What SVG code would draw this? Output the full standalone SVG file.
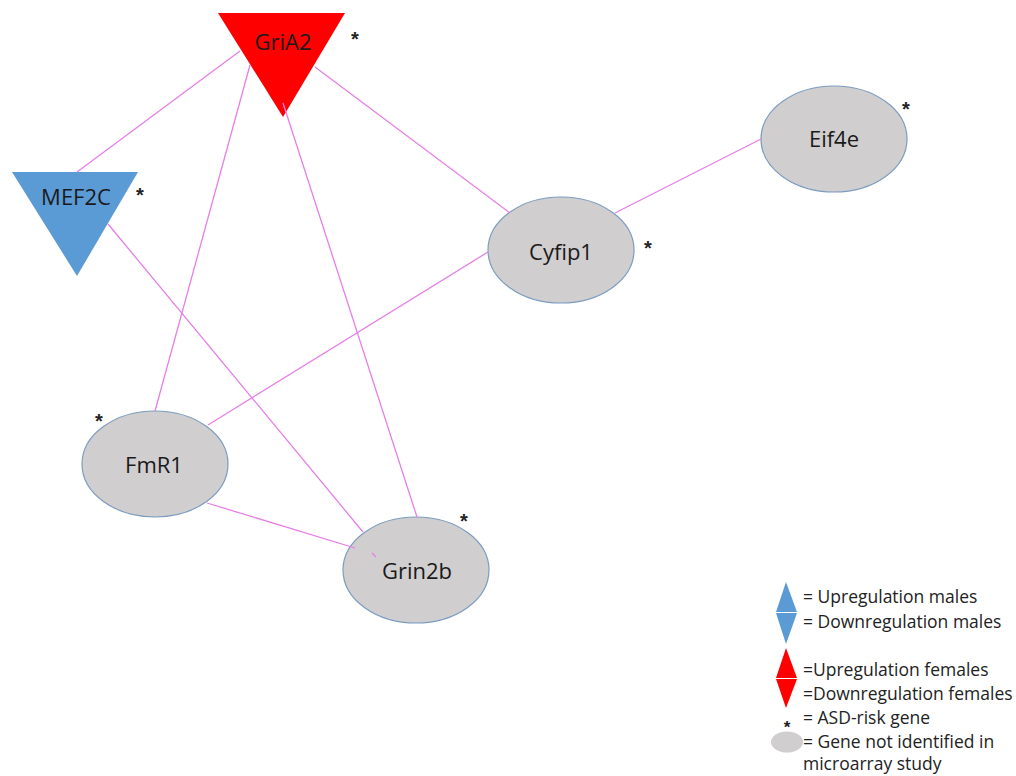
<svg xmlns="http://www.w3.org/2000/svg" width="1016" height="776" viewBox="0 0 1016 776">
<style>
.edge{stroke:#E67FE6;stroke-width:1.3;fill:none}
.gene{fill:#D0CECE;stroke:#7C9CBF;stroke-width:1.2}
.lbl{font-family:"Open Sans","Liberation Sans",sans-serif;font-size:22px;fill:#1a1a1a;text-anchor:middle}
.ast{font-family:"Liberation Sans",sans-serif;font-size:20px;font-weight:bold;fill:#222;text-anchor:middle}
.leg{font-family:"Open Sans","Liberation Sans",sans-serif;font-size:17.5px;fill:#222}
</style>
<rect width="1016" height="776" fill="#fff"/>
<g id="node-GriA2">
<polygon points="218,13 345,13 283,117" fill="#FF0000"/>
<text class="lbl" x="283" y="50">GriA2</text>
<text class="ast" x="355" y="46">*</text>
</g>
<g id="node-MEF2C">
<polygon points="12,172 138,172 77,276" fill="#5B9BD5"/>
<text class="lbl" x="76" y="205">MEF2C</text>
<text class="ast" x="140" y="202">*</text>
</g>
<g id="node-Eif4e">
<ellipse class="gene" cx="834" cy="139" rx="73" ry="53"/>
<text class="lbl" x="834" y="147">Eif4e</text>
<text class="ast" x="906" y="116">*</text>
</g>
<g id="node-Cyfip1">
<ellipse class="gene" cx="561" cy="250" rx="73" ry="53"/>
<text class="lbl" x="561" y="260">Cyfip1</text>
<text class="ast" x="648" y="255">*</text>
</g>
<g id="node-FmR1">
<ellipse class="gene" cx="155" cy="464" rx="73" ry="53"/>
<text class="lbl" x="154" y="473">FmR1</text>
<text class="ast" x="99" y="428">*</text>
</g>
<g id="node-Grin2b">
<ellipse class="gene" cx="416" cy="570" rx="73" ry="53"/>
<text class="lbl" x="417" y="579">Grin2b</text>
<text class="ast" x="464" y="528">*</text>
</g>
<g id="connectors">
<line class="edge" x1="240" y1="51" x2="77" y2="172"/>
<line class="edge" x1="250" y1="65" x2="155" y2="411"/>
<line class="edge" x1="283" y1="103" x2="417" y2="517"/>
<line class="edge" x1="315" y1="67" x2="510" y2="213"/>
<line class="edge" x1="615" y1="213" x2="761" y2="139"/>
<line class="edge" x1="208" y1="425" x2="488" y2="252"/>
<line class="edge" x1="207" y1="503" x2="355" y2="548"/>
<path class="edge" d="M108,224 L363,532 M372,553 L376,557"/>
</g>
<g id="legend">
<polygon points="776,612 786,582 797,612" fill="#5B9BD5"/>
<polygon points="776,613 797,613 786,644" fill="#5B9BD5"/>
<polygon points="776,678 786,648 797,678" fill="#FF0000"/>
<polygon points="776,679 797,679 786,708" fill="#FF0000"/>
<text class="leg" x="803" y="603">= Upregulation males</text>
<text class="leg" x="803" y="628">= Downregulation males</text>
<text class="leg" x="803" y="676">=Upregulation females</text>
<text class="leg" x="803" y="700">=Downregulation females</text>
<text class="ast" x="787" y="733" style="font-size:17px">*</text>
<text class="leg" x="803" y="724">= ASD-risk gene</text>
<ellipse cx="787" cy="742" rx="16" ry="10.5" fill="#D0CECE"/>
<text class="leg" x="803" y="748">= Gene not identified in</text>
<text class="leg" x="803" y="770">microarray study</text>
</g>
</svg>
